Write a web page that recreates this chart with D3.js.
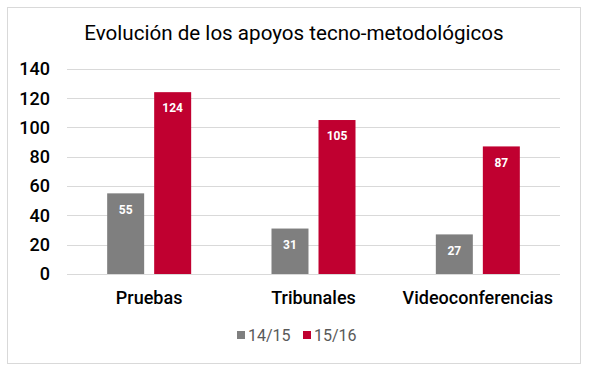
<html>
<head>
<meta charset="utf-8">
<style>
body { margin: 0; background: #fff; }
svg { font-family: Roboto, "Noto Sans", sans-serif; }
</style>
</head>
<body>
<script src="https://cdn.jsdelivr.net/npm/d3@7"></script>
<script>
var categories = ['Pruebas', 'Tribunales', 'Videoconferencias'];
var seriesNames = ['14/15', '15/16'];
var values1415 = [55, 31, 27];
var values1516 = [124, 105, 87];
var yTicks = [0, 20, 40, 60, 80, 100, 120, 140];
var colors = ['#7f7f7f', '#c00030'];

var W = 591, H = 371;
var svg = d3.select('body').append('svg').attr('width', W).attr('height', H);

svg.append('rect')
   .attr('x', 7.5).attr('y', 7.5).attr('width', 573).attr('height', 356)
   .attr('fill', '#fff').attr('stroke', '#d9d9d9');

svg.append('text')
   .attr('x', 294).attr('y', 40)
   .attr('text-anchor', 'middle')
   .attr('font-size', 20.6)
   .attr('fill', '#000')
   .text('Evolución de los apoyos tecno-metodológicos');

var x = d3.scaleBand().domain(categories).range([67, 560]);
var xs = d3.scaleBand().domain(seriesNames).range([-42, 42]).paddingInner(0.213);
var y = d3.scaleLinear().domain([0, 140]).range([274, 68.7]);

svg.selectAll('.grid').data(yTicks).enter().append('line')
   .attr('x1', 67).attr('x2', 560)
   .attr('y1', function(d) { return Math.round(y(d)) + 0.5; })
   .attr('y2', function(d) { return Math.round(y(d)) + 0.5; })
   .attr('stroke', '#d9d9d9');

svg.selectAll('.ytick').data(yTicks).enter().append('text')
   .attr('x', 50).attr('y', function(d) { return y(d); })
   .attr('dy', '0.36em')
   .attr('text-anchor', 'end')
   .attr('font-size', 18)
   .attr('font-weight', 500)
   .text(function(d) { return d; });

var data = [values1415, values1516];
data.forEach(function(vals, si) {
  var g = svg.append('g');
  g.selectAll('rect').data(vals).enter().append('rect')
   .attr('x', function(d, i) { return x(categories[i]) + x.bandwidth() / 2 + xs(seriesNames[si]); })
   .attr('y', function(d) { return y(d); })
   .attr('width', xs.bandwidth())
   .attr('height', function(d) { return y(0) - y(d); })
   .attr('fill', colors[si]);
  g.selectAll('text').data(vals).enter().append('text')
   .attr('x', function(d, i) { return x(categories[i]) + x.bandwidth() / 2 + xs(seriesNames[si]) + xs.bandwidth() / 2; })
   .attr('y', function(d) { return y(d) + 16; })
   .attr('dy', '0.36em')
   .attr('text-anchor', 'middle')
   .attr('font-size', 12)
   .attr('font-weight', 'bold')
   .attr('fill', '#fff')
   .text(function(d) { return d; });
});

svg.selectAll('.xlab').data(categories).enter().append('text')
   .attr('x', function(d) { return x(d) + x.bandwidth() / 2; })
   .attr('y', 304)
   .attr('text-anchor', 'middle')
   .attr('font-size', 18)
   .attr('font-weight', 500)
   .text(function(d) { return d; });

var legX = [237, 303];
seriesNames.forEach(function(s, i) {
  svg.append('rect').attr('x', legX[i]).attr('y', 331).attr('width', 8).attr('height', 8).attr('fill', colors[i]);
  svg.append('text').attr('x', legX[i] + 11).attr('y', 341)
     .attr('font-size', 16).attr('fill', '#595959').text(s);
});
</script>
</body>
</html>
